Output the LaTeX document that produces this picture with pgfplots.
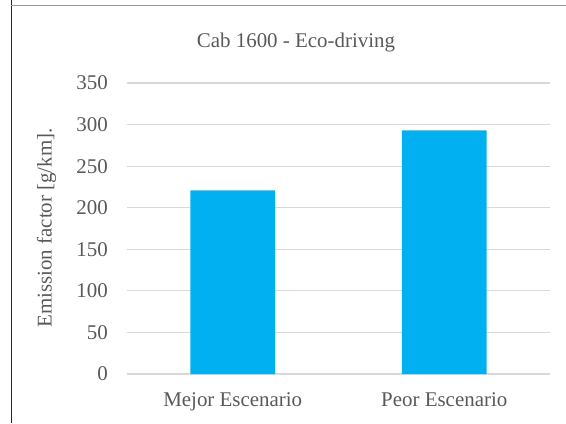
\documentclass[border=0pt]{standalone}
\usepackage{fontspec}
\setmainfont{Liberation Serif}
\usepackage{pgfplots}
\pgfplotsset{compat=1.18}
\definecolor{barblue}{HTML}{00B0F0}
\definecolor{txtgray}{HTML}{595959}
\definecolor{gridgray}{HTML}{D9D9D9}
\begin{document}
\begin{tikzpicture}[x=1bp,y=1bp]
\useasboundingbox (0,0) rectangle (566,-423);
\draw[color=black!85, line width=1bp] (11,0) -- (11,-423);
\draw[color=black!40, line width=0.8bp] (11,-5) -- (566,-5);
\begin{axis}[
  at={(127bp,-374bp)}, anchor=south west,
  scale only axis, width=423bp, height=291bp,
  xmin=-0.5, xmax=1.5, ymin=0, ymax=350,
  ytick={0,50,...,350},
  xtick=data, xticklabels={Mejor Escenario, Peor Escenario},
  ybar, bar width=0.4, bar shift=0pt,
  axis line style={draw=none},
  axis x line*=bottom,
  major tick length=0pt,
  ymajorgrids, grid style={gridgray, line width=1.2bp},
  extra y ticks={0}, extra y tick style={grid style={gridgray,line width=1.5bp}, yticklabels={}},
  font=\fontsize{21}{25}\selectfont,
  ticklabel style={text=txtgray, font=\fontsize{21}{25}\selectfont},
  /pgf/number format/assume math mode=true,
  yticklabel style={anchor=east, inner sep=0pt, xshift=-19bp},
  xticklabel style={anchor=north, inner sep=0pt, yshift=-18bp},
  title={Cab 1600 - Eco-driving},
  title style={text=txtgray, font=\fontsize{21}{25}\selectfont, at={(rel axis cs:0.3995,1.117)}, anchor=center, inner sep=0pt},
  ylabel={Emission factor [g/km].},
  ylabel style={text=txtgray, font=\fontsize{21}{25}\selectfont, at={(rel axis cs:-0.19,0.502)}, anchor=center, rotate=0, inner sep=0pt},
  clip=false,
]
\addplot[fill=barblue, draw=none] coordinates {(0,221) (1,293)};
\end{axis}
\end{tikzpicture}
\end{document}
